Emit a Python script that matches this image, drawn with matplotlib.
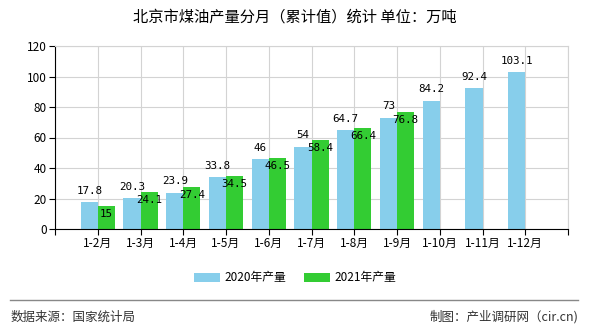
import matplotlib.pyplot as plt
import numpy as np

plt.rcParams['font.family'] = ['Noto Sans CJK SC', 'DejaVu Sans']

months = ["1-2月", "1-3月", "1-4月", "1-5月", "1-6月", "1-7月",
          "1-8月", "1-9月", "1-10月", "1-11月", "1-12月"]
output_2020 = [17.8, 20.3, 23.9, 33.8, 46, 54, 64.7, 73, 84.2, 92.4, 103.1]
output_2021 = [15, 24.1, 27.4, 34.5, 46.5, 58.4, 66.4, 76.8]
labels_2020 = ["17.8", "20.3", "23.9", "33.8", "46", "54", "64.7", "73", "84.2", "92.4", "103.1"]
labels_2021 = ["15", "24.1", "27.4", "34.5", "46.5", "58.4", "66.4", "76.8"]

fig = plt.figure(figsize=(5.9, 3.3), dpi=100)
ax = fig.add_axes([55 / 590, 1 - 229 / 330, 513 / 590, 183 / 330])

x = np.arange(1, len(months) + 1)
x21 = x[:len(output_2021)]
w = 0.4
b1 = ax.bar(x - w / 2, output_2020, w, color="#87CEEB", label="2020年产量", zorder=2)
b2 = ax.bar(x21 + w / 2, output_2021, w, color="#33CC33", label="2021年产量", zorder=2)

num_font = dict(family=["DejaVu Sans Mono"], fontsize=7.8, color="black")
for xi, v, s in zip(x, output_2020, labels_2020):
    ax.annotate(s, (xi - w / 2, v), xytext=(0, 4.5), textcoords="offset points",
                ha="center", va="bottom", zorder=3, **num_font)
for xi, v, s in zip(x21, output_2021, labels_2021):
    ax.annotate(s, (xi + w / 2, v), xytext=(0, -2), textcoords="offset points",
                ha="center", va="top", zorder=3, **num_font)

ax.set_xlim(0, 12)
ax.set_ylim(0, 120)
ax.set_yticks(range(0, 121, 20))
ax.set_xticks(range(0, 13))
ax.set_xticklabels([""] + months + [""], fontsize=8.5)
ax.tick_params(axis="y", labelsize=8.5, length=4, width=0.8, pad=2)
ax.tick_params(axis="x", length=4, width=0.8, pad=2)
ax.grid(True, color="#D3D3D3", linewidth=0.8, zorder=0)
for side in ["top", "right"]:
    ax.spines[side].set_color("#D3D3D3")
for side in ["left", "bottom"]:
    ax.spines[side].set_color("black")

fig.text(0.5, 1 - 17 / 330, "北京市煤油产量分月（累计值）统计 单位：万吨",
         ha="center", va="center", fontsize=11)
fig.legend(handles=[b1, b2], loc="center", bbox_to_anchor=(0.5, 1 - 278 / 330),
           ncol=2, frameon=False, fontsize=8.5, handlelength=2.2, handleheight=0.9,
           columnspacing=1.5, handletextpad=0.4)
fig.add_artist(plt.Line2D([10 / 590, 578 / 590], [1 - 300 / 330] * 2,
                          color="#888888", linewidth=1))
fig.text(11 / 590, 1 - 317 / 330, "数据来源：国家统计局", ha="left", va="center",
         fontsize=9, color="#333333")
fig.text(578 / 590, 1 - 317 / 330, "制图：产业调研网（cir.cn)", ha="right", va="center",
         fontsize=9, color="#333333")

fig.savefig("out.png", dpi=100)
